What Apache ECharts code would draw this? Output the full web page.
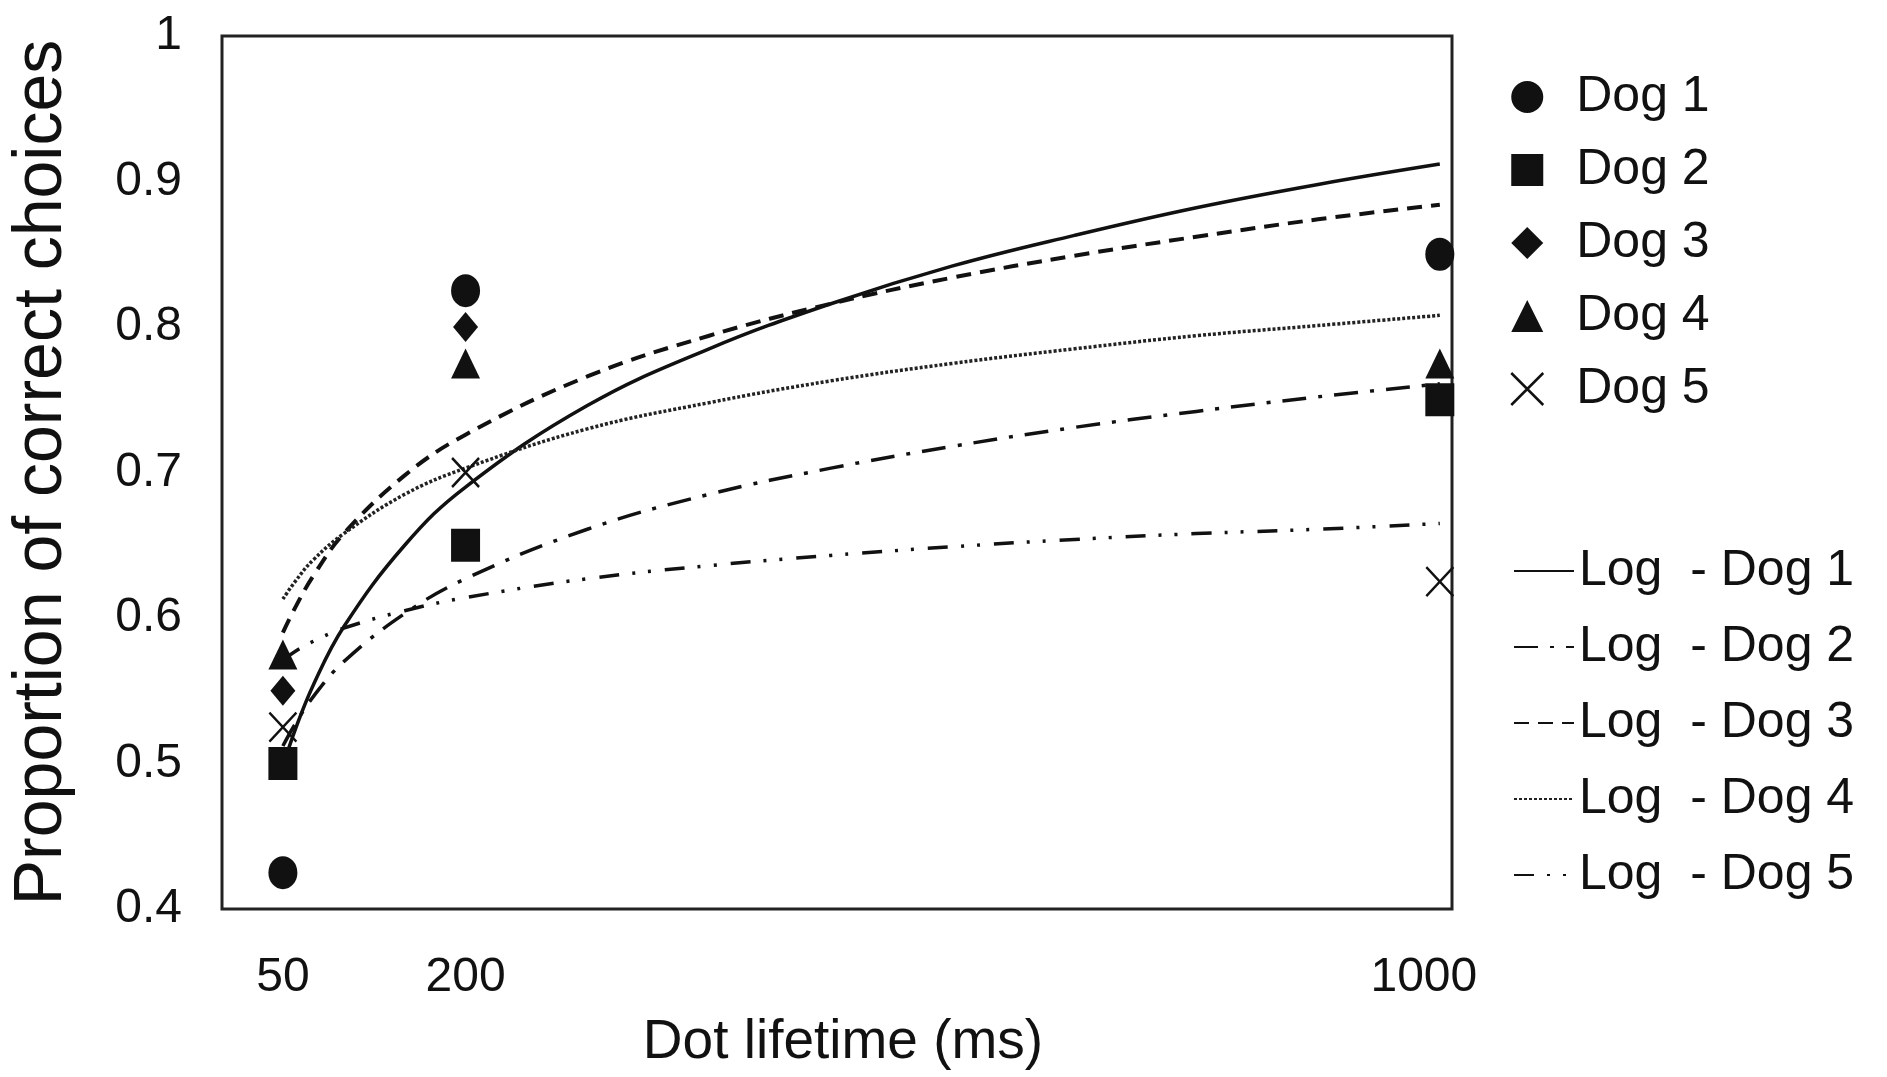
<!DOCTYPE html>
<html>
<head>
<meta charset="utf-8">
<title>Dot lifetime</title>
<script src="https://cdn.jsdelivr.net/npm/echarts@6/dist/echarts.min.js"></script>
<style>
html, body { margin: 0; padding: 0; background: #fff; }
#main { width: 1887px; height: 1077px; }
</style>
</head>
<body>
<div id="main"></div>
<script>
// measured points (proportion correct) at each dot lifetime
var lifetimes = [50, 200, 1000];
var dog1 = [0.425, 0.825, 0.85];
var dog2 = [0.5, 0.65, 0.75];
var dog3 = [0.55, 0.8, 0.85];
var dog4 = [0.575, 0.775, 0.775];
var dog5 = [0.525, 0.7, 0.625];

// log trend lines
var fitX = [50, 60, 75, 100, 150, 200, 300, 400, 500, 600, 700, 800, 900, 1000];
var fit1 = [0.498, 0.523, 0.554, 0.594, 0.650, 0.690, 0.746, 0.785, 0.816, 0.842, 0.863, 0.882, 0.898, 0.912];
var fit2 = [0.512, 0.527, 0.546, 0.570, 0.603, 0.627, 0.661, 0.685, 0.703, 0.718, 0.731, 0.742, 0.752, 0.761];
var fit3 = [0.590, 0.607, 0.629, 0.658, 0.698, 0.726, 0.766, 0.794, 0.816, 0.834, 0.849, 0.862, 0.874, 0.884];
var fit4 = [0.613, 0.625, 0.640, 0.658, 0.685, 0.703, 0.730, 0.748, 0.763, 0.775, 0.785, 0.794, 0.801, 0.808];
var fit5 = [0.571, 0.577, 0.584, 0.593, 0.605, 0.614, 0.627, 0.636, 0.643, 0.649, 0.654, 0.658, 0.661, 0.665];

var xTicks = [50, 200, 1000];

function pairs(xs, ys) {
  return xs.map(function (x, i) { return [x, ys[i]]; });
}

var font = 'Liberation Sans, Arial, sans-serif';
var ink = '#111';
var ellipse = 'path://M0,-1A1,1 0 1,1 0,1A1,1 0 1,1 0,-1Z';
var cross = 'path://M0,0L10,10M10,0L0,10';

function dots(name, ys, symbol, size, z) {
  return {
    name: name,
    type: 'scatter',
    symbol: symbol,
    symbolSize: size,
    z: z,
    itemStyle: { color: ink, opacity: 1 },
    data: pairs(lifetimes, ys)
  };
}

function trend(name, ys, dash, width, color) {
  return {
    name: name,
    type: 'line',
    smooth: 0.4,
    symbol: 'none',
    showSymbol: false,
    z: 2,
    lineStyle: { color: color || ink, width: width, type: dash },
    itemStyle: { color: color || ink },
    data: pairs(fitX, ys)
  };
}

var x5 = dots('Dog 5', dog5, cross, [27, 29], 4);
x5.itemStyle = { color: ink, borderColor: ink, borderWidth: 2.5, opacity: 1 };

var chart = echarts.init(document.getElementById('main'));
chart.setOption({
  animation: false,
  backgroundColor: '#fff',
  textStyle: { fontFamily: font, color: ink },
  grid: {
    left: 222, right: 435, top: 36, bottom: 168,
    outerBoundsMode: 'none',
    show: true, borderColor: '#222', borderWidth: 3, backgroundColor: 'transparent'
  },
  xAxis: {
    type: 'value',
    min: 0,
    max: 1010,
    name: 'Dot lifetime (ms)',
    nameLocation: 'middle',
    nameGap: 106,
    nameTextStyle: { fontSize: 55, color: ink, fontFamily: font, padding: [0, 0, 0, 12] },
    axisLine: { show: false },
    axisTick: { show: false },
    splitLine: { show: false },
    axisLabel: {
      customValues: xTicks, fontSize: 48, color: ink, margin: 45, fontFamily: font,
      // the last label sits a little left of its point in the original
      formatter: function (v) { return v === 1000 ? '{last|' + v + '}' : String(v); },
      rich: { last: { fontSize: 48, color: ink, fontFamily: font, padding: [0, 32, 0, 0] } }
    }
  },
  yAxis: {
    type: 'value',
    min: 0.4,
    max: 1,
    interval: 0.1,
    name: 'Proportion of correct choices',
    nameLocation: 'middle',
    nameGap: 146,
    nameTextStyle: { fontSize: 68, color: ink, fontFamily: font },
    axisLine: { show: false },
    axisTick: { show: false },
    splitLine: { show: false },
    axisLabel: { fontSize: 48, color: ink, margin: 40, fontFamily: font }
  },
  legend: [
    {
      orient: 'vertical',
      left: 1505,
      top: 67,
      itemWidth: 32,
      itemHeight: 32,
      itemGap: 23,
      textStyle: { fontSize: 50, color: ink, fontFamily: font, padding: [0, 0, 0, 28] },
      data: ['Dog 1', 'Dog 2', 'Dog 3', 'Dog 4',
        { name: 'Dog 5', itemStyle: { borderWidth: 2.5, borderColor: ink } }]
    },
    {
      orient: 'vertical',
      left: 1508,
      top: 541,
      itemWidth: 60,
      itemHeight: 20,
      itemGap: 26,
      itemStyle: { opacity: 0 },
      textStyle: { fontSize: 50, color: ink, fontFamily: font },
      data: ['Log  - Dog 1', 'Log  - Dog 2', 'Log  - Dog 3', 'Log  - Dog 4', 'Log  - Dog 5']
    }
  ],
  series: [
    trend('Log  - Dog 1', fit1, 'solid', 3.5),
    trend('Log  - Dog 2', fit2, [24, 12, 4, 12], 3.5),
    trend('Log  - Dog 3', fit3, [15, 9], 4),
    trend('Log  - Dog 4', fit4, [3, 2], 3.5, '#222'),
    trend('Log  - Dog 5', fit5, [20, 13, 3, 13, 3, 14], 3.5),
    dots('Dog 3', dog3, 'diamond', [25, 30], 4),
    dots('Dog 4', dog4, 'triangle', [29, 30], 4),
    dots('Dog 2', dog2, 'rect', [29, 33], 5),
    x5,
    dots('Dog 1', dog1, ellipse, [29, 33], 6)
  ]
});
window.onresize = function () {
  chart.resize();
};
</script>
</body>
</html>
